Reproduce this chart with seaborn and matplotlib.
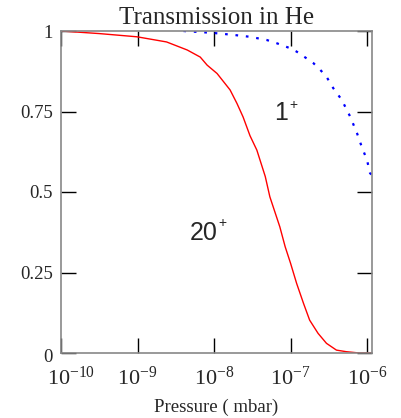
import numpy as np
import pandas as pd
import matplotlib
matplotlib.use("Agg")
import matplotlib.pyplot as plt
import matplotlib.transforms as mtransforms
import seaborn as sns

# 20+ curve (log10 pressure, transmission)
red_logp = [-10.0, -9.5, -9.007, -8.62, -8.35, -8.18, -8.09, -7.96, -7.79, -7.70, -7.62,
            -7.53, -7.44, -7.33, -7.27, -7.14, -7.07, -7.0, -6.92, -6.83, -6.75,
            -6.64, -6.53, -6.40, -6.27, -6.1, -5.93]
red_T = [1.0, 0.992, 0.982, 0.966, 0.941, 0.919, 0.894, 0.868, 0.817, 0.775, 0.733,
         0.675, 0.630, 0.548, 0.485, 0.392, 0.330, 0.279, 0.216, 0.154, 0.102,
         0.061, 0.030, 0.009, 0.004, 0.0, 0.0]

# 1+ curve
blue_logp = [-8.4, -8.27, -8.01, -7.75, -7.53, -7.31, -7.18, -7.0, -6.92, -6.79,
             -6.70, -6.61, -6.53, -6.44, -6.33, -6.22, -6.13, -6.07, -6.0, -5.96, -5.93]
blue_T = [1.0, 0.998, 0.994, 0.988, 0.982, 0.972, 0.962, 0.946, 0.936, 0.915,
          0.900, 0.879, 0.858, 0.822, 0.786, 0.734, 0.682, 0.641, 0.599, 0.558, 0.553]

xticks = [1e-10, 1e-9, 1e-8, 1e-7, 1e-6]
xtick_labels = [r"$10^{-10}$", r"$10^{-9}$", r"$10^{-8}$", r"$10^{-7}$", r"$10^{-6}$"]
yticks = [0, 0.25, 0.5, 0.75, 1]
ytick_labels = ["0", "0.25", "0.5", "0.75", "1"]

sns.set_style("white")
plt.rcParams["font.family"] = ["Liberation Serif", "DejaVu Serif"]
plt.rcParams["mathtext.fontset"] = "custom"
plt.rcParams["mathtext.rm"] = "Liberation Serif"
plt.rcParams["mathtext.it"] = "Liberation Serif"
plt.rcParams["mathtext.default"] = "regular"

red_df = pd.DataFrame({"p": 10 ** np.array(red_logp), "T": red_T})
blue_df = pd.DataFrame({"p": 10 ** np.array(blue_logp), "T": blue_T})

fig = plt.figure(figsize=(4.02, 4.18), dpi=100)
ax = fig.add_axes([61 / 402, 1 - 353 / 418, 311 / 402, 322 / 418])

sns.lineplot(data=red_df, x="p", y="T", ax=ax, color="#ff0000", linewidth=1.0,
             estimator=None, sort=False)
sns.lineplot(data=blue_df, x="p", y="T", ax=ax, color="#0000ff", linewidth=1.6,
             estimator=None, sort=False, linestyle=(0, (1.2, 3.5)))

ax.set_xscale("log")
ax.set_xlim(1e-10, 10 ** -5.935)
ax.set_ylim(0, 1)
ax.set_xticks(xticks)
ax.set_xticklabels(xtick_labels, fontsize=16)
ax.minorticks_off()
ax.set_yticks(yticks)
ax.set_yticklabels(ytick_labels, fontsize=13.5)
ax.tick_params(direction="in", length=11, width=1, color="black",
               top=True, right=True, bottom=True, left=True)
ax.tick_params(axis="x", pad=10)
ax.tick_params(axis="y", pad=6)
for s in ax.spines.values():
    s.set_color("#888888")
    s.set_linewidth(1.2)

# small offsets of edge labels as in the original
lbl = ax.get_xticklabels()[0]
lbl.set_transform(lbl.get_transform() + mtransforms.ScaledTranslation(10 / 100, 0, fig.dpi_scale_trans))
lbl0 = ax.get_yticklabels()[0]
lbl0.set_transform(lbl0.get_transform() + mtransforms.ScaledTranslation(0, -3 / 100, fig.dpi_scale_trans))

ax.set_title("Transmission in He", fontsize=18, pad=5)
ax.set_xlabel("Pressure ( mbar)", fontsize=13.5, labelpad=6)
ax.set_ylabel("")

sans = ["Liberation Sans", "DejaVu Sans"]
ax.text(7.5e-8, 0.7236, "1", fontsize=18, family=sans, ha="center", va="baseline")
ax.annotate("+", xy=(7.5e-8, 0.7236), xytext=(9, 10.8), textcoords="offset points",
            fontsize=10, family=sans, ha="center", va="center")
ax.text(7.4e-9, 0.351, "20", fontsize=18, family=sans, ha="center", va="baseline")
ax.annotate("+", xy=(7.4e-9, 0.351), xytext=(13.5, 11.9), textcoords="offset points",
            fontsize=10, family=sans, ha="center", va="center")

fig.savefig("out.png", dpi=100)
